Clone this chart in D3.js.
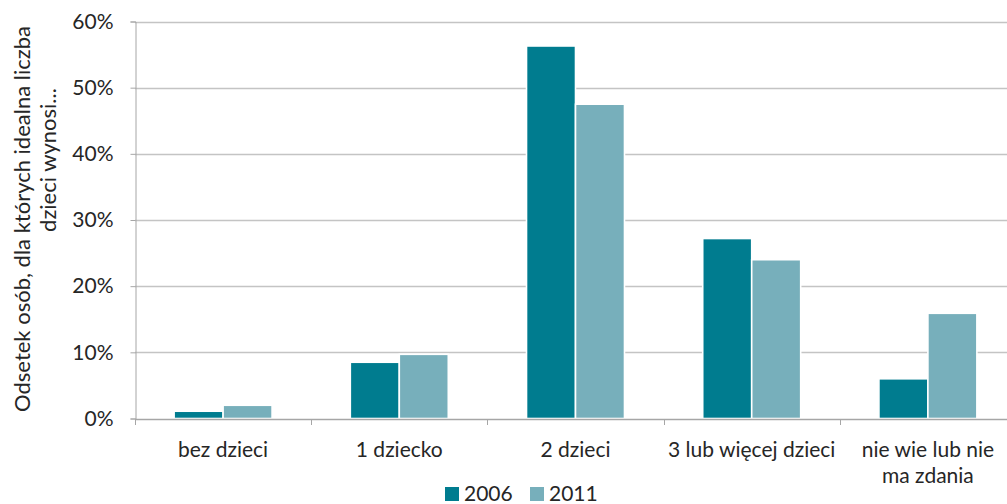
<!DOCTYPE html>
<html><head><meta charset="utf-8">
<script src="https://cdn.jsdelivr.net/npm/d3@7"></script>
<style>
html,body{margin:0;padding:0;background:#fff;}
svg{display:block;}
text{font-family:Lato,"Open Sans",sans-serif;fill:#262626;}
</style></head>
<body>
<svg id="chart" width="1007" height="504"></svg>
<script>
const categories = ["bez dzieci", "1 dziecko", "2 dzieci", "3 lub więcej dzieci", "nie wie lub nie|ma zdania"];
const seriesNames = ["2006", "2011"];
const values2006 = [1.1, 8.5, 56.3, 27.2, 6.0];
const values2011 = [2.0, 9.7, 47.5, 24.0, 15.9];
const yTicks = [0, 10, 20, 30, 40, 50, 60];
const colors = ["#007C8F", "#77AFBB"];
const yTitleLines = ["Odsetek osób, dla których idealna liczba", "dzieci wynosi..."];

(function () {
const svg = d3.select("#chart");
const mLeft = 135, mRight = 1016, mTop = 21.5, mBottom = 418.5;
const fs = 21;

const y = d3.scaleLinear().domain([0, 60]).range([mBottom, mTop]);
const x0 = d3.scaleBand().domain(categories).range([mLeft, mRight]).paddingInner(0.444).paddingOuter(0.222);
const x1 = d3.scaleBand().domain(seriesNames).range([0, x0.bandwidth()]);

// gridlines
svg.append("g").selectAll("line").data(yTicks.filter(d => d > 0)).join("line")
  .attr("x1", mLeft).attr("x2", mRight)
  .attr("y1", d => Math.round(y(d)) + 0.5).attr("y2", d => Math.round(y(d)) + 0.5)
  .attr("stroke", "#c4c4c4").attr("stroke-width", 1.3);

// y axis
const yAxis = d3.axisLeft(y).tickValues(yTicks).tickFormat(d => d + "%").tickSize(5).tickPadding(17);
const gy = svg.append("g").attr("transform", `translate(${mLeft + 0.5},0)`).call(yAxis);
gy.select(".domain").attr("stroke", "#a6a6a6");
gy.selectAll(".tick line").attr("stroke", "#a6a6a6");
gy.selectAll(".tick text").attr("font-size", fs).attr("fill", "#262626").attr("font-family", "Lato, sans-serif");

// bars
const data = categories.map((c, i) => ({ cat: c, vals: [values2006[i], values2011[i]] }));
const groups = svg.append("g").selectAll("g").data(data).join("g")
  .attr("transform", d => `translate(${x0(d.cat)},0)`);
groups.selectAll("rect").data(d => d.vals.map((v, j) => ({ s: seriesNames[j], v, j }))).join("rect")
  .attr("x", d => x1(d.s)).attr("width", x1.bandwidth())
  .attr("y", d => y(d.v)).attr("height", d => y(0) - y(d.v))
  .attr("fill", d => colors[d.j]).attr("stroke", "#fff").attr("stroke-width", 1.6);

// x axis
const xAxisLine = svg.append("g");
xAxisLine.append("line").attr("x1", mLeft).attr("x2", mRight)
  .attr("y1", Math.round(mBottom) + 0.5).attr("y2", Math.round(mBottom) + 0.5)
  .attr("stroke", "#a6a6a6").attr("stroke-width", 1.3);
const boundaries = categories.map(c => x0(c) - x0.step() * x0.paddingOuter()).concat([mRight]);
xAxisLine.selectAll("line.t").data(boundaries).join("line").attr("class", "t")
  .attr("x1", d => Math.round(d) + 0.5).attr("x2", d => Math.round(d) + 0.5)
  .attr("y1", Math.round(mBottom)).attr("y2", Math.round(mBottom) + 6)
  .attr("stroke", "#a6a6a6");

const xl = svg.append("g").selectAll("text").data(categories).join("text")
  .attr("x", d => x0(d) + x0.bandwidth() / 2)
  .attr("y", 457)
  .attr("text-anchor", "middle").attr("font-size", fs);
xl.each(function(d) {
  const lines = d.split("|");
  const t = d3.select(this);
  lines.forEach((l, i) => t.append("tspan").attr("x", x0(d) + x0.bandwidth() / 2).attr("dy", i === 0 ? 0 : 26).text(l));
});

// y title
svg.append("text").attr("transform", "translate(30,219) rotate(-90)")
  .attr("text-anchor", "middle").attr("font-size", 22).text(yTitleLines[0]);
svg.append("text").attr("transform", "translate(56,160) rotate(-90)")
  .attr("text-anchor", "middle").attr("font-size", 22).text(yTitleLines[1]);

// legend
const legendX = [445, 530];
const lg = svg.append("g").selectAll("g").data(seriesNames).join("g")
  .attr("transform", (d, i) => `translate(${legendX[i]},487)`);
lg.append("rect").attr("width", 14).attr("height", 14).attr("fill", (d, i) => colors[i]);
lg.append("text").attr("x", 19).attr("y", 14).attr("font-size", fs).text(d => d);
})();
</script>
</body></html>
